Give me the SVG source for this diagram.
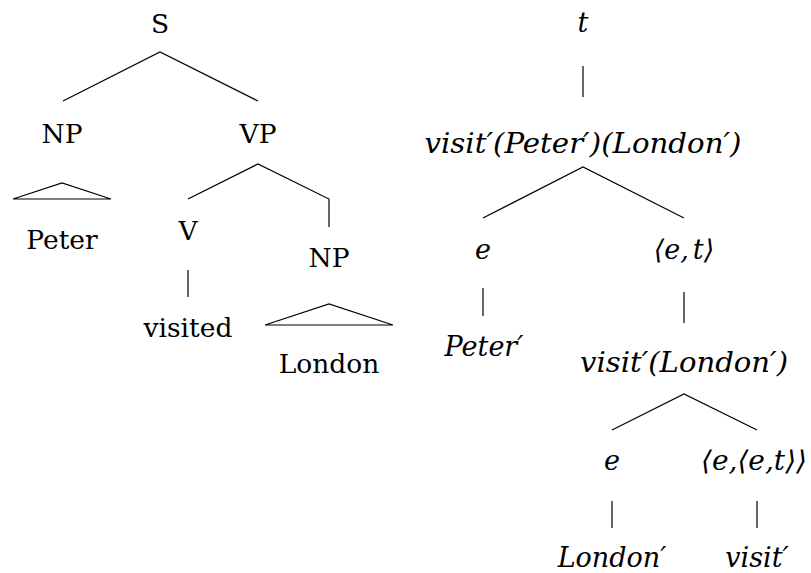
<svg xmlns="http://www.w3.org/2000/svg" width="811" height="573" viewBox="0 0 811 573">
<style>
text{fill:#000;text-anchor:middle}
.rm{font-family:'DejaVu Serif',serif;font-size:26.5px}
.it{font-family:'DejaVu Serif',serif;font-style:italic;font-size:27px}
.e{fill:none;stroke:#000;stroke-width:1.2}
</style>
<rect width="811" height="573" fill="#fff"/>
<g id="edges">
<polyline class="e" points="63,101 160,52 258,101"/>
<polygon class="e" points="13,199 62,183 111,199"/>
<polyline class="e" points="188,199 258,164 329,199 329,227"/>
<line class="e" x1="188" y1="270" x2="188" y2="297"/>
<polygon class="e" points="265,325 329,304 393,325"/>
<line class="e" x1="583" y1="66" x2="583" y2="97"/>
<polyline class="e" points="483,218 583,167 684,218"/>
<line class="e" x1="483" y1="288" x2="483" y2="316"/>
<line class="e" x1="684" y1="292" x2="684" y2="323"/>
<polyline class="e" points="612,430 684,394 757,430"/>
<line class="e" x1="612" y1="501" x2="612" y2="528"/>
<line class="e" x1="757" y1="501" x2="757" y2="528"/>
</g>
<g id="S"><text class="rm" x="160" y="33">S</text></g>
<g id="NP1"><text class="rm" x="62" y="143">NP</text></g>
<g id="VP"><text class="rm" x="258" y="143">VP</text></g>
<g id="Peter"><text class="rm" x="62" y="249">Peter</text></g>
<g id="V"><text class="rm" x="188" y="240">V</text></g>
<g id="NP2"><text class="rm" x="329" y="267">NP</text></g>
<g id="visited"><text class="rm" x="188" y="337">visited</text></g>
<g id="London"><text class="rm" x="329" y="373">London</text></g>
<g id="t"><text class="it" x="583" y="32">t</text></g>
<g id="sem-root"><text class="it" x="583" y="153" textLength="317" lengthAdjust="spacingAndGlyphs">visit′(Peter′)(London′)</text></g>
<g id="e1"><text class="it" x="483" y="259">e</text></g>
<g id="et"><text class="it" x="684" y="259">⟨e,<tspan dx="4">t</tspan>⟩</text></g>
<g id="PeterP"><text class="it" x="484" y="356">Peter′</text></g>
<g id="visitLondon"><text class="it" x="684" y="372" textLength="208" lengthAdjust="spacingAndGlyphs">visit′(London′)</text></g>
<g id="e2"><text class="it" x="612" y="470">e</text></g>
<g id="eet"><text class="it" x="754" y="470" textLength="106" lengthAdjust="spacingAndGlyphs">⟨e,⟨e,t⟩⟩</text></g>
<g id="LondonP"><text class="it" x="612" y="567">London′</text></g>
<g id="visitP"><text class="it" x="757" y="567">visit′</text></g>
</svg>
